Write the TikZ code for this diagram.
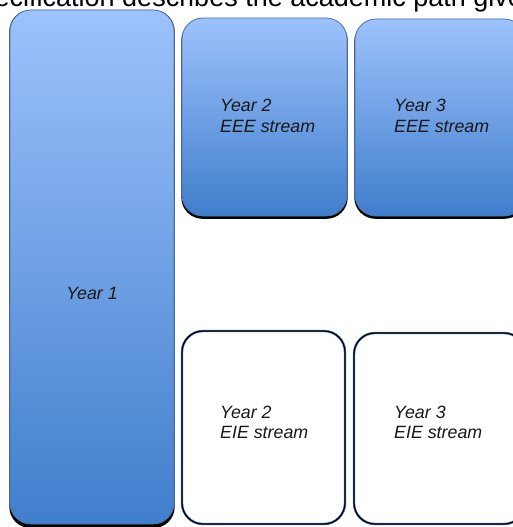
\documentclass[tikz,border=0pt]{standalone}
\usepackage{fontspec}
\setmainfont{Liberation Sans}
\usetikzlibrary{shadows}
\definecolor{bluetop}{RGB}{157,194,252}
\definecolor{bluebot}{RGB}{64,126,204}
\definecolor{blueedge}{RGB}{70,118,186}
\definecolor{txt}{RGB}{25,25,25}
\begin{document}
\begin{tikzpicture}[x=1pt,y=-1pt,
  box/.style={rectangle, inner sep=0pt, outer sep=0pt, rounded corners=21pt},
  bluebox/.style={box, top color=bluetop, bottom color=bluebot, draw=blueedge, line width=0.8pt,
    drop shadow={shadow xshift=0pt, shadow yshift=-2pt, shadow scale=1.008, fill=black, opacity=1}},
  whitebox/.style={box, fill=white, draw=blueedge, line width=0.6pt, double=black, double distance=1.2pt},
  lbl/.style={inner sep=0pt, anchor=base west, align=left, text=txt,
    font=\fontsize{17.8}{20.5}\selectfont\itshape},
  toptext/.style={inner sep=0pt, anchor=base west, text=black, font=\fontsize{27}{30}\selectfont}]
\useasboundingbox (0,0) rectangle (513,527);
\clip (0,0) rectangle (513,527);
\node[toptext] (head) at (-34,6.5) {specification describes the academic path given};
\node[bluebox, minimum width=164pt, minimum height=514pt] (year1) at (92,267) {};
\node[bluebox, minimum width=165pt, minimum height=198pt] (y2eee) at (264.5,117) {};
\node[bluebox, minimum width=170pt, minimum height=197pt] (y3eee) at (440,117.5) {};
\node[whitebox, minimum width=163pt, minimum height=193pt] (y2eie) at (263.5,427.5) {};
\node[whitebox, minimum width=171pt, minimum height=191pt] (y3eie) at (439.5,428.5) {};
\node[lbl, anchor=base] (t1) at (92,299) {Year 1};
\node[lbl] (t2) at (220,132) {Year 2\\EEE stream};
\node[lbl] (t3) at (394,132) {Year 3\\EEE stream};
\node[lbl] (t4) at (220,438.5) {Year 2\\EIE stream};
\node[lbl] (t5) at (394,438.5) {Year 3\\EIE stream};
\end{tikzpicture}
\end{document}
